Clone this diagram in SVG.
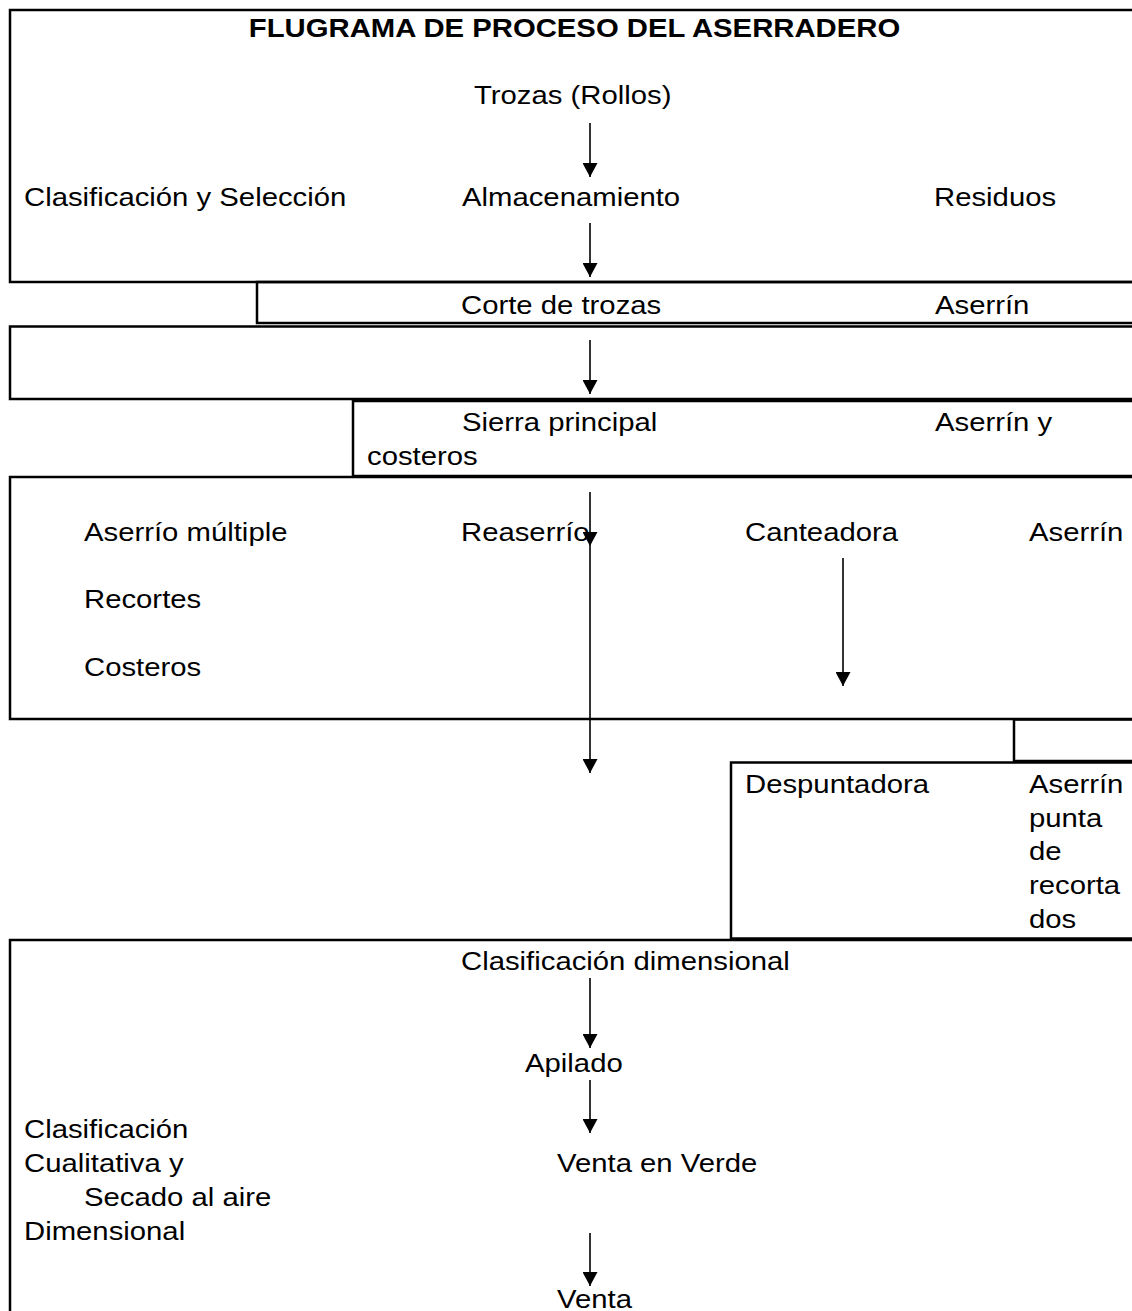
<svg xmlns="http://www.w3.org/2000/svg" width="1132" height="1311" viewBox="0 0 1132 1311">
<style>
.box{fill:none;stroke:#000;stroke-width:2.5}
.t{font-family:"Liberation Sans",Arial,sans-serif;font-size:26px;fill:#000}
.b{font-weight:bold}
.c{stroke:#000;stroke-width:1.6;fill:none}
</style>
<defs>
<marker id="ah" viewBox="0 0 14 15" refX="14" refY="7.5" markerWidth="14" markerHeight="15" markerUnits="userSpaceOnUse" orient="auto">
<path d="M0,0 L14,7.5 L0,15 z" fill="#000"/>
</marker>
</defs>
<rect width="1132" height="1311" fill="#fff"/>

<g id="n-recepcion">
<rect class="box" x="10" y="10" width="1140" height="272"/>
<text class="t b" text-anchor="middle" transform="translate(574.5 37) scale(1.127 1)">FLUGRAMA DE PROCESO DEL ASERRADERO</text>
<text class="t" transform="translate(474 104) scale(1.127 1)">Trozas (Rollos)</text>
<text class="t" transform="translate(24 206) scale(1.127 1)">Clasificación y Selección</text>
<text class="t" transform="translate(462 206) scale(1.127 1)">Almacenamiento</text>
<text class="t" transform="translate(934 206) scale(1.127 1)">Residuos</text>
</g>

<g id="n-corte">
<rect class="box" x="257" y="282" width="890" height="41"/>
<text class="t" transform="translate(461 314) scale(1.127 1)">Corte de trozas</text>
<text class="t" transform="translate(935 314) scale(1.127 1)">Aserrín</text>
</g>

<g id="n-paso">
<rect class="box" x="10" y="326.5" width="1140" height="72.5"/>
</g>

<g id="n-sierra">
<rect class="box" x="353" y="401" width="797" height="75"/>
<text class="t" transform="translate(462 431) scale(1.127 1)">Sierra principal</text>
<text class="t" transform="translate(935 431) scale(1.127 1)">Aserrín y</text>
<text class="t" transform="translate(367 465) scale(1.127 1)">costeros</text>
</g>

<g id="n-aserrio">
<rect class="box" x="10" y="477" width="1140" height="242"/>
<text class="t" transform="translate(84 541) scale(1.127 1)">Aserrío múltiple</text>
<text class="t" transform="translate(461 541) scale(1.127 1)">Reaserrío</text>
<text class="t" transform="translate(745 541) scale(1.127 1)">Canteadora</text>
<text class="t" transform="translate(1029 541) scale(1.127 1)">Aserrín</text>
<text class="t" transform="translate(84 608) scale(1.127 1)">Recortes</text>
<text class="t" transform="translate(84 676) scale(1.127 1)">Costeros</text>
</g>

<g id="n-pequeno">
<rect class="box" x="1014" y="719.5" width="140" height="41.5"/>
</g>

<g id="n-despuntadora">
<rect class="box" x="731" y="762.5" width="420" height="176"/>
<text class="t" transform="translate(745 793) scale(1.127 1)">Despuntadora</text>
<text class="t" transform="translate(1029 793) scale(1.127 1)">Aserrín<tspan x="0" dy="33.7">punta</tspan><tspan x="0" dy="33.7">de</tspan><tspan x="0" dy="33.7">recorta</tspan><tspan x="0" dy="33.7">dos</tspan></text>
</g>

<g id="n-clasificacion">
<rect class="box" x="10" y="940" width="1140" height="400"/>
<text class="t" transform="translate(461 970) scale(1.127 1)">Clasificación dimensional</text>
<text class="t" transform="translate(525 1072) scale(1.127 1)">Apilado</text>
<text class="t" transform="translate(24 1138) scale(1.127 1)">Clasificación<tspan x="0" dy="34">Cualitativa y</tspan></text>
<text class="t" transform="translate(84 1206) scale(1.127 1)">Secado al aire</text>
<text class="t" transform="translate(24 1240) scale(1.127 1)">Dimensional</text>
<text class="t" transform="translate(557 1172) scale(1.127 1)">Venta en Verde</text>
<text class="t" transform="translate(557 1308) scale(1.127 1)">Venta</text>
</g>

<g id="connectors">
<line class="c" x1="590" y1="123" x2="590" y2="177" marker-end="url(#ah)"/>
<line class="c" x1="590" y1="223" x2="590" y2="277" marker-end="url(#ah)"/>
<line class="c" x1="590" y1="340" x2="590" y2="394" marker-end="url(#ah)"/>
<line class="c" x1="590" y1="492" x2="590" y2="546" marker-end="url(#ah)"/>
<line class="c" x1="590" y1="546" x2="590" y2="773" marker-end="url(#ah)"/>
<line class="c" x1="843" y1="558" x2="843" y2="686" marker-end="url(#ah)"/>
<line class="c" x1="590" y1="978" x2="590" y2="1048" marker-end="url(#ah)"/>
<line class="c" x1="590" y1="1080" x2="590" y2="1133" marker-end="url(#ah)"/>
<line class="c" x1="590" y1="1233" x2="590" y2="1286" marker-end="url(#ah)"/>
</g>
</svg>
